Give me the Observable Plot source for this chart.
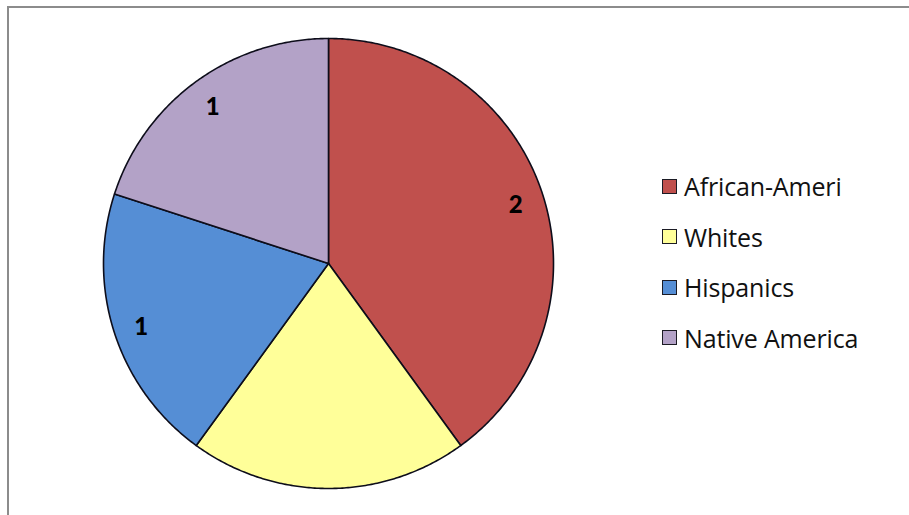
<!DOCTYPE html>
<html>
<head>
<meta charset="utf-8">
<script src="https://cdn.jsdelivr.net/npm/d3@7"></script>
<script src="https://cdn.jsdelivr.net/npm/@observablehq/plot@0.6"></script>
<style>
  html, body { margin: 0; padding: 0; background: #fff; }
  #wrap { position: relative; width: 909px; height: 515px; overflow: hidden; font-family: "Open Sans", Lato, sans-serif; }
  #border { position: absolute; left: 7px; top: 6px; width: 920px; height: 530px; border-top: 2px solid #8c8c8c; border-left: 2px solid #8c8c8c; }
  #chart { position: absolute; left: 0; top: 0; }
  #legend { position: absolute; left: 662px; top: 161px; }
  .item { display: flex; align-items: center; height: 50.5px; }
  .sw { width: 13px; height: 13px; border: 1.5px solid #1b1b24; margin-right: 7px; box-sizing: content-box; }
  .lab { font-size: 25px; color: #111; letter-spacing: -0.15px; }
</style>
</head>
<body>
<div id="wrap">
  <div id="border"></div>
  <div id="chart"></div>
  <div id="legend"></div>
</div>
<script>
const categories = ["African-Ameri", "Whites", "Hispanics", "Native America"];
const values = [2, 1, 1, 1];
const showLabel = [true, false, true, true];
const colors = ["#C0504D", "#FFFF99", "#558ED5", "#B3A2C7"];

// Pie angles via d3.pie (clockwise from 12 o'clock, in data order)
const arcs = d3.pie().sort(null).value(d => d.value)(
  categories.map((c, i) => ({category: c, value: values[i], show: showLabel[i]}))
);

// Build slice outlines in unit coordinates (radius 1)
const slicePts = [];
arcs.forEach(a => {
  const cat = a.data.category;
  slicePts.push({category: cat, x: 0, y: 0});
  const n = Math.max(2, Math.ceil((a.endAngle - a.startAngle) / (Math.PI / 360)));
  for (let k = 0; k <= n; k++) {
    const t = a.startAngle + (a.endAngle - a.startAngle) * k / n;
    slicePts.push({category: cat, x: Math.sin(t), y: Math.cos(t)});
  }
  slicePts.push({category: cat, x: 0, y: 0});
});

const labelR = 0.875;
const labels = arcs.filter(a => a.data.show).map(a => {
  const m = (a.startAngle + a.endAngle) / 2;
  return {text: String(a.data.value), x: labelR * Math.sin(m), y: labelR * Math.cos(m)};
});

const chart = Plot.plot({
  width: 909,
  height: 515,
  margin: 0,
  x: {domain: [-1, 1], range: [103, 553], axis: null},
  y: {domain: [-1, 1], range: [488, 38], axis: null},
  color: {domain: categories, range: colors},
  marks: [
    Plot.line(slicePts, {x: "x", y: "y", z: "category", fill: "category", stroke: "#0d0d1a", strokeWidth: 1.6, strokeLinejoin: "round", curve: "linear"}),
    Plot.text(labels, {x: "x", y: "y", dy: 3, text: "text", fontSize: 24, fontWeight: 900, fill: "#000", fontFamily: "Lato, sans-serif"})
  ],
  style: {background: "transparent", overflow: "visible"}
});
document.getElementById("chart").appendChild(chart);

const legend = d3.select("#legend");
categories.forEach((c, i) => {
  const it = legend.append("div").attr("class", "item");
  it.append("div").attr("class", "sw").style("background", colors[i]);
  it.append("div").attr("class", "lab").text(c);
});
</script>
</body>
</html>
